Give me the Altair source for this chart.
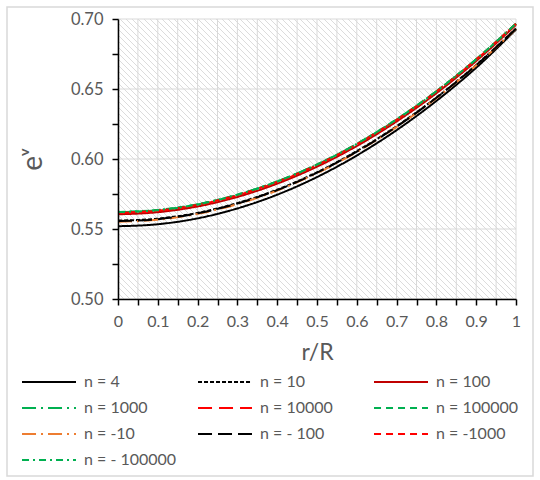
import altair as alt
import numpy as np
import pandas as pd

# radial coordinate r/R
r_values = [0.0, 0.1, 0.2, 0.3, 0.4, 0.5, 0.6, 0.7, 0.8, 0.9, 1.0]

# e^nu for each polytropic index n
n_4 = [0.5520, 0.5534, 0.5576, 0.5647, 0.5745, 0.5871, 0.6025, 0.6206, 0.6415, 0.6652, 0.6925]
n_10 = [0.5560, 0.5574, 0.5615, 0.5685, 0.5781, 0.5905, 0.6056, 0.6234, 0.6439, 0.6672, 0.6932]
n_100 = [0.5605, 0.5620, 0.5661, 0.5729, 0.5824, 0.5945, 0.6093, 0.6268, 0.6470, 0.6700, 0.6958]
n_1000 = [0.5620, 0.5634, 0.5675, 0.5744, 0.5839, 0.5960, 0.6107, 0.6282, 0.6483, 0.6712, 0.6966]
n_10000 = [0.5615, 0.5630, 0.5671, 0.5740, 0.5835, 0.5956, 0.6104, 0.6279, 0.6481, 0.6710, 0.6966]
n_100000 = [0.5622, 0.5636, 0.5677, 0.5745, 0.5840, 0.5961, 0.6108, 0.6283, 0.6484, 0.6713, 0.6967]
n_m10 = [0.5552, 0.5566, 0.5608, 0.5678, 0.5775, 0.5899, 0.6050, 0.6229, 0.6435, 0.6669, 0.6930]
n_m100 = [0.5556, 0.5570, 0.5612, 0.5682, 0.5778, 0.5902, 0.6053, 0.6231, 0.6437, 0.6670, 0.6931]
n_m1000 = [0.5618, 0.5632, 0.5673, 0.5742, 0.5837, 0.5958, 0.6105, 0.6280, 0.6482, 0.6711, 0.6966]
n_m100000 = [0.5621, 0.5635, 0.5676, 0.5745, 0.5840, 0.5960, 0.6108, 0.6283, 0.6484, 0.6713, 0.6967]

series_labels = ["n = 4", "n = 10", "n = 100", "n = 1000", "n = 10000",
                 "n = 100000", "n = -10", "n = - 100", "n = -1000", "n = - 100000"]
series_values = [n_4, n_10, n_100, n_1000, n_10000, n_100000, n_m10, n_m100, n_m1000, n_m100000]
series_colors = ["#000000", "#000000", "#c00000", "#00b050", "#ff0000",
                 "#00b050", "#ed7d31", "#000000", "#ff0000", "#00b050"]
series_dashes = [[1, 0], [4, 2], [1, 0], [14, 5, 2, 5], [14, 7],
                 [7, 5], [14, 5, 2, 5], [14, 6], [7, 5], [7, 4, 2, 4]]

# axis ticks and grid positions
x_ticks = [round(i * 0.05, 2) for i in range(21)]
y_ticks = [round(0.5 + i * 0.025, 3) for i in range(9)]
x_grid = x_ticks
y_grid = [0.50, 0.55, 0.60, 0.65, 0.70]

X_MIN, X_MAX = 0.0, 1.0
Y_MIN, Y_MAX = 0.50, 0.70
W, H = 398, 280
FONT = "Lato"
TEXT = "#595959"

rows = []
for label, vals in zip(series_labels, series_values):
    for r, v in zip(r_values, vals):
        rows.append({"r": r, "ev": v, "series": label})
df = pd.DataFrame(rows)

x_scale = alt.Scale(domain=[X_MIN, X_MAX], nice=False, zero=False)
y_scale = alt.Scale(domain=[Y_MIN, Y_MAX], nice=False, zero=False)

x_axis = alt.Axis(
    title="r/R", values=x_ticks, grid=False,
    labelExpr="round(datum.value*20) % 2 == 0 ? format(datum.value, '~g') : ''",
    domainColor="#000000", domainWidth=1.5, tickColor="#000000", tickWidth=1.5,
    tickSize=6, labelPadding=8, labelFontSize=16, labelColor=TEXT, labelFont=FONT,
    titleFontSize=23, titleFont=FONT, titleColor=TEXT, titleFontWeight="normal",
    titlePadding=12, labelFlush=False, labelOverlap=False, zindex=1,
)
y_axis = alt.Axis(
    title="eᵛ", values=y_ticks, grid=False,
    labelExpr="round(datum.value*40) % 2 == 0 ? format(datum.value, '.2f') : ''",
    domainColor="#000000", domainWidth=1.5, tickColor="#000000", tickWidth=1.5,
    tickSize=6, labelPadding=9, labelFontSize=16.5, labelColor=TEXT, labelFont=FONT,
    titleFontSize=28, titleFont=FONT, titleColor=TEXT, titleFontWeight="normal",
    titleX=-85, titleY=H / 2, titleAlign="center", titleBaseline="middle",
    labelFlush=False, labelOverlap=False, zindex=1,
)

# diagonal hatch fill of the plot area (45 degree lines on screen)
step = 6
hatch = []
for k in np.arange(-H, W, step):
    x0 = max(0, k)
    x1 = min(W, H + k)
    if x1 <= x0:
        continue
    y0 = x0 - k
    y1 = x1 - k
    hatch.append({
        "x": X_MIN + x0 / W * (X_MAX - X_MIN),
        "x2": X_MIN + x1 / W * (X_MAX - X_MIN),
        "y": Y_MAX - y0 / H * (Y_MAX - Y_MIN),
        "y2": Y_MAX - y1 / H * (Y_MAX - Y_MIN),
    })
hatch_df = pd.DataFrame(hatch)

hatch_layer = alt.Chart(hatch_df).mark_rule(color="#dcdcdc", strokeWidth=1).encode(
    x=alt.X("x:Q", scale=x_scale, axis=x_axis),
    x2="x2:Q",
    y=alt.Y("y:Q", scale=y_scale, axis=y_axis),
    y2="y2:Q",
)

vgrid = alt.Chart(pd.DataFrame({"g": x_grid})).mark_rule(color="#d9d9d9", strokeWidth=1).encode(
    x=alt.X("g:Q", scale=x_scale, axis=x_axis)
)
hgrid = alt.Chart(pd.DataFrame({"g": y_grid})).mark_rule(color="#d9d9d9", strokeWidth=1).encode(
    y=alt.Y("g:Q", scale=y_scale, axis=y_axis)
)

# legend key: a wide horizontal stroke drawn with a small symbol size so rows stay compact
legend_key = "M-4,0H4"

lines = alt.Chart(df).mark_line(strokeWidth=2, interpolate="monotone").encode(
    x=alt.X("r:Q", scale=x_scale, axis=x_axis),
    y=alt.Y("ev:Q", scale=y_scale, axis=y_axis),
    color=alt.Color(
        "series:N",
        scale=alt.Scale(domain=series_labels, range=series_colors),
        sort=series_labels,
        legend=alt.Legend(
            title=None, orient="none", legendX=-77, legendY=355, columns=3,
            direction="horizontal",
            symbolType=legend_key, symbolSize=182, symbolStrokeWidth=2,
            labelFontSize=16, labelColor=TEXT, labelFont=FONT, labelOffset=27,
            columnPadding=17, rowPadding=10, gridAlign="all", padding=0,
        ),
    ),
    strokeDash=alt.StrokeDash(
        "series:N",
        scale=alt.Scale(domain=series_labels, range=series_dashes),
        sort=series_labels,
        legend=None,
    ),
)

frame = alt.Chart(pd.DataFrame({"a": [0]})).mark_rect(
    fillOpacity=0, stroke="#d9d9d9", strokeWidth=1.5
).encode(
    x=alt.value(-111), x2=alt.value(415), y=alt.value(-12), y2=alt.value(457)
)

chart = alt.layer(hatch_layer, vgrid, hgrid, lines, frame).properties(
    width=W, height=H,
    autosize=alt.AutoSizeParams(type="none"),
    padding={"left": 118, "top": 19, "right": 24, "bottom": 181},
    background="#ffffff",
).configure_view(stroke=None)

chart.save("out.html", embed_options={"renderer": "svg", "actions": False})
